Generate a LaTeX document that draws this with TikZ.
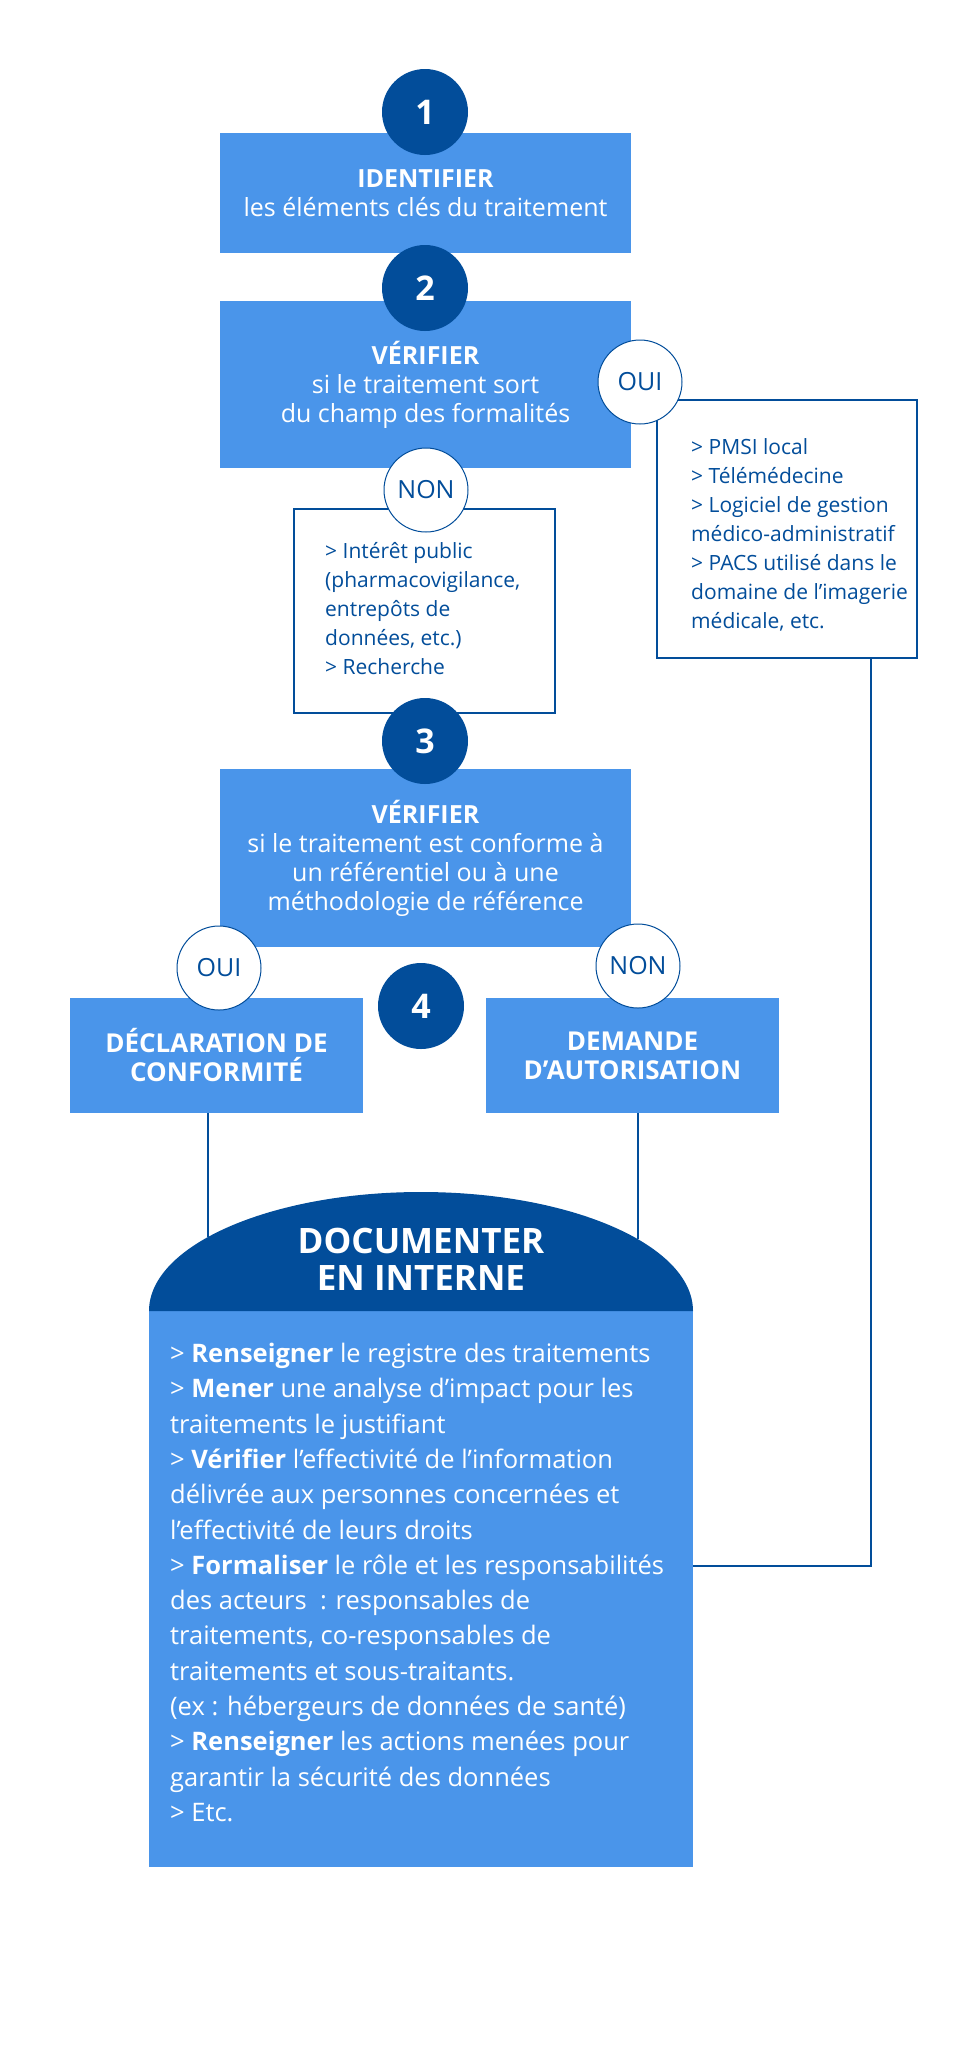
\documentclass[tikz,border=0pt]{standalone}
\usepackage{fontspec}
\setmainfont{Open Sans}
\IfFontExistsTF{Open Sans SemiBold}{\newfontfamily\semif{Open Sans SemiBold}}{\newfontfamily\semif{Open Sans}}
\definecolor{lb}{HTML}{4A95EA}
\definecolor{db}{HTML}{024D9A}
\tikzset{
 box/.style={fill=lb, inner sep=0pt, text=white, align=center},
 num/.style={circle, fill=db, minimum size=86pt, inner sep=0pt, text=white, font=\fontsize{34}{34}\selectfont\bfseries},
 ans/.style={circle, fill=white, draw=db, line width=1pt, minimum size=84pt, inner sep=0pt, text=db, font=\semif\fontsize{25}{25}\selectfont},
 listbox/.style={draw=db, line width=1.2pt, fill=white, inner sep=0pt},
 listtxt/.style={anchor=north west, inner sep=0pt, text=db, align=left, font=\fontsize{21}{29}\selectfont},
 conn/.style={draw=db, line width=1.2pt},
}
\begin{document}
\begin{tikzpicture}[x=1pt,y=-1pt]
\useasboundingbox (0,0) rectangle (975,2070);
% main boxes
\node[box, minimum width=411pt, minimum height=120pt, font=\fontsize{25}{29}\selectfont] (b1) at (425.5,193)
 {{\bfseries IDENTIFIER}\\les éléments clés du traitement};
\node[box, minimum width=411pt, minimum height=167pt, font=\fontsize{25}{29}\selectfont] (b2) at (425.5,384.5)
 {{\bfseries VÉRIFIER}\\si le traitement sort\\du champ des formalités};
\node[box, minimum width=411pt, minimum height=178pt, font=\fontsize{25}{29}\selectfont] (b3) at (425.5,858)
 {{\bfseries VÉRIFIER}\\si le traitement est conforme à\\un référentiel ou à une\\méthodologie de référence};
\node[box, minimum width=293pt, minimum height=115pt, font=\fontsize{26}{29}\selectfont\bfseries] (decl) at (216.5,1055.5)
 {DÉCLARATION DE\\CONFORMITÉ};
\node[box, minimum width=293pt, minimum height=115pt, font=\fontsize{26}{29}\selectfont\bfseries] (dem) at (632.5,1055.5)
 {DEMANDE\\D’AUTORISATION};
% list boxes
\node[listbox, minimum width=261pt, minimum height=204pt] (nonbox) at (424.5,611) {};
\node[listtxt] (nontxt) at (325,542)
 {> Intérêt public\\(pharmacovigilance,\\entrepôts de\\données, etc.)\\> Recherche};
\node[listbox, minimum width=260pt, minimum height=258pt] (ouibox) at (787,529) {};
\node[listtxt] (ouitxt) at (691,438)
 {> PMSI local\\> Télémédecine\\> Logiciel de gestion\\médico-administratif\\> PACS utilisé dans le\\domaine de l’imagerie\\médicale, etc.};
% bottom block
\node[fill=lb, minimum width=544pt, minimum height=557pt, anchor=north west, inner sep=0pt] (bbox) at (149,1310) {};
\fill[db] (149,1311) arc[start angle=180, end angle=0, x radius=272pt, y radius=119pt] -- cycle;
\node[text=white, align=center, inner sep=0pt, font=\fontsize{35}{37}\selectfont\bfseries] (doct) at (421,1259)
 {DOCUMENTER\\EN INTERNE};
\node[anchor=north west, inner sep=0pt, text=white, align=left, font=\fontsize{25.5}{35.3}\selectfont] (btxt) at (170,1343)
 {> \textbf{Renseigner} le registre des traitements\\
 > \textbf{Mener} une analyse d’impact pour les\\
 traitements le justifiant\\
 > \textbf{Vérifier} l’effectivité de l’information\\
 délivrée aux personnes concernées et\\
 l’effectivité de leurs droits\\
 > \textbf{Formaliser} le rôle et les responsabilités\\
 des acteurs~~: responsables de\\
 traitements, co-responsables de\\
 traitements et sous-traitants.\\
 (ex : hébergeurs de données de santé)\\
 > \textbf{Renseigner} les actions menées pour\\
 garantir la sécurité des données\\
 > Etc.};
% connectors
\coordinate (dl) at (208,1237);
\coordinate (dr) at (638,1239);
\coordinate (rc) at (871,1566);
\draw[conn] (dl |- decl.south) -- (dl);
\draw[conn] (dr |- dem.south) -- (dr);
\draw[conn] (rc |- ouibox.south) -- (rc) -- (bbox.east |- rc);
% circles
\node[num] (n1) at (425,112) {1};
\node[num] (n2) at (425,288) {2};
\node[num] (n3) at (425,741) {3};
\node[num] (n4) at (421,1006) {4};
\node[ans] (oui1) at (640,382) {OUI};
\node[ans] (non1) at (426,490) {NON};
\node[ans] (oui2) at (219,968) {OUI};
\node[ans] (non2) at (638,966) {NON};
\end{tikzpicture}
\end{document}
